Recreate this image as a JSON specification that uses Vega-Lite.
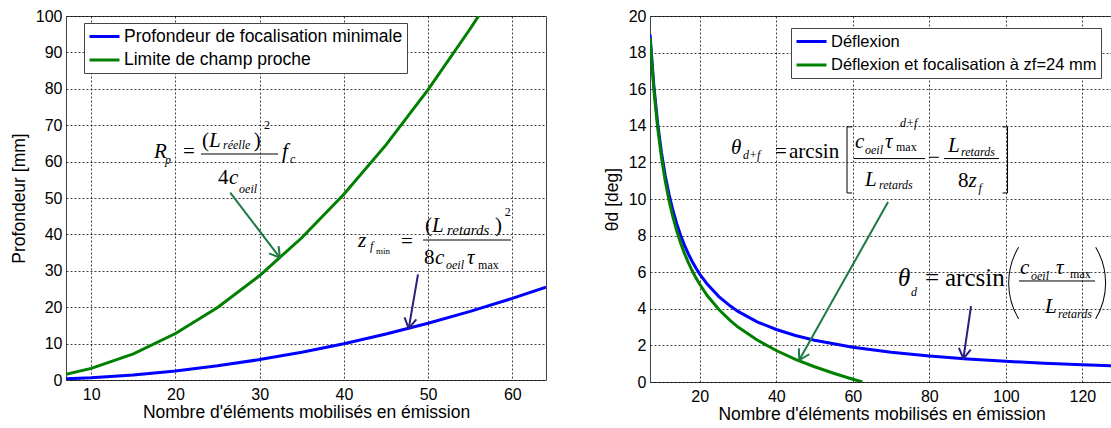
{
"$schema": "https://vega.github.io/schema/vega-lite/v6.json",
"background": "white",
"padding": {"left": 9, "top": 7, "right": 0, "bottom": 0},
"config": {
 "font": "Liberation Sans",
 "view": {"stroke": "#444", "strokeWidth": 1},
 "axis": {"labelFont": "Liberation Sans", "labelFontSize": 16, "labelColor": "#000", "titleFont": "Liberation Sans", "titleFontSize": 17.5, "titleFontWeight": "normal", "titleColor": "#000", "grid": true, "gridColor": "#000", "gridDash": [2, 2], "gridOpacity": 0.75, "ticks": false, "domain": false},
 "axisX": {"labelPadding": 6, "titlePadding": 1},
 "axisY": {"labelPadding": 4, "titlePadding": 7},
 "legend": {"labelFont": "Liberation Sans", "labelFontSize": 17.5, "labelColor": "#000", "symbolType": "M -1 0 L 2.75 0", "symbolSize": 256, "symbolStrokeWidth": 3, "strokeColor": "#444", "fillColor": "#fff", "padding": 4, "rowPadding": 5.5, "labelOffset": 17, "labelLimit": 400}
},
"datasets": {
 "L": [
  {"x": 7, "y": 0.31, "s": "Profondeur de focalisation minimale"},
  {"x": 10, "y": 0.62, "s": "Profondeur de focalisation minimale"},
  {"x": 15, "y": 1.40, "s": "Profondeur de focalisation minimale"},
  {"x": 20, "y": 2.49, "s": "Profondeur de focalisation minimale"},
  {"x": 25, "y": 3.89, "s": "Profondeur de focalisation minimale"},
  {"x": 30, "y": 5.61, "s": "Profondeur de focalisation minimale"},
  {"x": 35, "y": 7.63, "s": "Profondeur de focalisation minimale"},
  {"x": 40, "y": 9.97, "s": "Profondeur de focalisation minimale"},
  {"x": 45, "y": 12.62, "s": "Profondeur de focalisation minimale"},
  {"x": 50, "y": 15.58, "s": "Profondeur de focalisation minimale"},
  {"x": 55, "y": 18.85, "s": "Profondeur de focalisation minimale"},
  {"x": 60, "y": 22.43, "s": "Profondeur de focalisation minimale"},
  {"x": 64, "y": 25.52, "s": "Profondeur de focalisation minimale"},
  {"x": 7, "y": 1.56, "s": "Limite de champ proche"},
  {"x": 10, "y": 3.19, "s": "Limite de champ proche"},
  {"x": 15, "y": 7.18, "s": "Limite de champ proche"},
  {"x": 20, "y": 12.76, "s": "Limite de champ proche"},
  {"x": 25, "y": 19.94, "s": "Limite de champ proche"},
  {"x": 30, "y": 28.71, "s": "Limite de champ proche"},
  {"x": 35, "y": 39.08, "s": "Limite de champ proche"},
  {"x": 40, "y": 51.04, "s": "Limite de champ proche"},
  {"x": 45, "y": 64.60, "s": "Limite de champ proche"},
  {"x": 50, "y": 79.75, "s": "Limite de champ proche"},
  {"x": 55, "y": 96.50, "s": "Limite de champ proche"},
  {"x": 56, "y": 100.04, "s": "Limite de champ proche"}
 ],
 "R": [
  {"x": 7, "y": 19.0, "s": "Déflexion"},
  {"x": 8, "y": 16.2, "s": "Déflexion"},
  {"x": 9, "y": 14.13, "s": "Déflexion"},
  {"x": 10, "y": 12.53, "s": "Déflexion"},
  {"x": 11, "y": 11.26, "s": "Déflexion"},
  {"x": 12, "y": 10.23, "s": "Déflexion"},
  {"x": 13, "y": 9.37, "s": "Déflexion"},
  {"x": 14, "y": 8.64, "s": "Déflexion"},
  {"x": 15, "y": 8.02, "s": "Déflexion"},
  {"x": 16, "y": 7.48, "s": "Déflexion"},
  {"x": 17, "y": 7.01, "s": "Déflexion"},
  {"x": 18, "y": 6.60, "s": "Déflexion"},
  {"x": 19, "y": 6.23, "s": "Déflexion"},
  {"x": 20, "y": 5.90, "s": "Déflexion"},
  {"x": 22, "y": 5.34, "s": "Déflexion"},
  {"x": 25, "y": 4.67, "s": "Déflexion"},
  {"x": 28, "y": 4.15, "s": "Déflexion"},
  {"x": 30, "y": 3.86, "s": "Déflexion"},
  {"x": 35, "y": 3.29, "s": "Déflexion"},
  {"x": 40, "y": 2.87, "s": "Déflexion"},
  {"x": 45, "y": 2.54, "s": "Déflexion"},
  {"x": 50, "y": 2.28, "s": "Déflexion"},
  {"x": 60, "y": 1.90, "s": "Déflexion"},
  {"x": 70, "y": 1.62, "s": "Déflexion"},
  {"x": 80, "y": 1.42, "s": "Déflexion"},
  {"x": 90, "y": 1.26, "s": "Déflexion"},
  {"x": 100, "y": 1.13, "s": "Déflexion"},
  {"x": 110, "y": 1.03, "s": "Déflexion"},
  {"x": 120, "y": 0.94, "s": "Déflexion"},
  {"x": 128, "y": 0.88, "s": "Déflexion"},
  {"x": 7, "y": 18.81, "s": "Déflexion et focalisation à zf=24 mm"},
  {"x": 8, "y": 15.99, "s": "Déflexion et focalisation à zf=24 mm"},
  {"x": 9, "y": 13.89, "s": "Déflexion et focalisation à zf=24 mm"},
  {"x": 10, "y": 12.26, "s": "Déflexion et focalisation à zf=24 mm"},
  {"x": 11, "y": 10.96, "s": "Déflexion et focalisation à zf=24 mm"},
  {"x": 12, "y": 9.90, "s": "Déflexion et focalisation à zf=24 mm"},
  {"x": 13, "y": 9.01, "s": "Déflexion et focalisation à zf=24 mm"},
  {"x": 14, "y": 8.25, "s": "Déflexion et focalisation à zf=24 mm"},
  {"x": 15, "y": 7.60, "s": "Déflexion et focalisation à zf=24 mm"},
  {"x": 16, "y": 7.03, "s": "Déflexion et focalisation à zf=24 mm"},
  {"x": 17, "y": 6.54, "s": "Déflexion et focalisation à zf=24 mm"},
  {"x": 18, "y": 6.09, "s": "Déflexion et focalisation à zf=24 mm"},
  {"x": 19, "y": 5.69, "s": "Déflexion et focalisation à zf=24 mm"},
  {"x": 20, "y": 5.34, "s": "Déflexion et focalisation à zf=24 mm"},
  {"x": 22, "y": 4.71, "s": "Déflexion et focalisation à zf=24 mm"},
  {"x": 25, "y": 3.96, "s": "Déflexion et focalisation à zf=24 mm"},
  {"x": 28, "y": 3.35, "s": "Déflexion et focalisation à zf=24 mm"},
  {"x": 30, "y": 3.00, "s": "Déflexion et focalisation à zf=24 mm"},
  {"x": 35, "y": 2.29, "s": "Déflexion et focalisation à zf=24 mm"},
  {"x": 40, "y": 1.72, "s": "Déflexion et focalisation à zf=24 mm"},
  {"x": 45, "y": 1.24, "s": "Déflexion et focalisation à zf=24 mm"},
  {"x": 50, "y": 0.835, "s": "Déflexion et focalisation à zf=24 mm"},
  {"x": 55, "y": 0.476, "s": "Déflexion et focalisation à zf=24 mm"},
  {"x": 60, "y": 0.152, "s": "Déflexion et focalisation à zf=24 mm"},
  {"x": 62.5, "y": 0, "s": "Déflexion et focalisation à zf=24 mm"}
 ],
 "LA": [
  {"x": 17.45, "y": 61.0, "t": "R", "k": "it"},
  {"x": 18.76, "y": 59.34, "t": "p", "k": "sub"},
  {"x": 20.9, "y": 61.0, "t": "=", "k": "rm"},
  {"x": 23.15, "y": 64.0, "t": "(", "k": "rm"},
  {"x": 23.98, "y": 64.0, "t": "L", "k": "it"},
  {"x": 25.65, "y": 63.46, "t": "réelle", "k": "sub"},
  {"x": 29.3, "y": 64.0, "t": ")", "k": "rm"},
  {"x": 30.5, "y": 68.96, "t": "2", "k": "rmsub"},
  {"x": 25.05, "y": 53.85, "t": "4", "k": "rm"},
  {"x": 26.36, "y": 53.85, "t": "c", "k": "it"},
  {"x": 27.55, "y": 51.37, "t": "oeil", "k": "sub"},
  {"x": 32.65, "y": 61.0, "t": "f", "k": "it"},
  {"x": 33.6, "y": 59.6, "t": "c", "k": "sub"},
  {"x": 41.68, "y": 36.54, "t": "z", "k": "it"},
  {"x": 43.1, "y": 35.71, "t": "f", "k": "sub"},
  {"x": 43.82, "y": 34.62, "t": "min", "k": "tiny"},
  {"x": 46.79, "y": 36.26, "t": "=", "k": "rm"},
  {"x": 49.64, "y": 40.66, "t": "(", "k": "rm"},
  {"x": 50.47, "y": 40.66, "t": "L", "k": "it"},
  {"x": 52.25, "y": 39.84, "t": "retards", "k": "subw"},
  {"x": 57.95, "y": 40.66, "t": ")", "k": "rm"},
  {"x": 59.1, "y": 45.05, "t": "2", "k": "rmsub"},
  {"x": 49.52, "y": 31.87, "t": "8", "k": "rm"},
  {"x": 50.82, "y": 31.87, "t": "c", "k": "it"},
  {"x": 52.13, "y": 30.49, "t": "oeil", "k": "sub"},
  {"x": 54.63, "y": 31.87, "t": "τ", "k": "it"},
  {"x": 55.93, "y": 30.49, "t": "max", "k": "rmsub"}
 ],
 "LR": [
  {"x": 23.03, "y": 62.09, "x2": 32.18, "y2": 62.09},
  {"x": 49.4, "y": 38.46, "x2": 59.85, "y2": 38.46}
 ],
 "LAR": [
  {"x": 26.5, "y": 51.5, "x2": 32.4, "y2": 33.6, "a": "g"},
  {"x": 48.8, "y": 29.0, "x2": 47.7, "y2": 14.2, "a": "b"}
 ],
 "RA": [
  {"x": 28.17, "y": 12.46, "t": "θ", "k": "it"},
  {"x": 31.3, "y": 12.18, "t": "d+f", "k": "sub"},
  {"x": 39.67, "y": 12.24, "t": "=", "k": "rm"},
  {"x": 43.33, "y": 12.24, "t": "arcsin", "k": "rm"},
  {"x": 60.58, "y": 12.79, "t": "c", "k": "it"},
  {"x": 63.19, "y": 12.46, "t": "oeil", "k": "sub"},
  {"x": 68.42, "y": 12.79, "t": "τ", "k": "it"},
  {"x": 71.3, "y": 12.62, "t": "max", "k": "rmsub"},
  {"x": 72.34, "y": 13.95, "t": "d+f", "k": "sub"},
  {"x": 63.19, "y": 10.71, "t": "L", "k": "it"},
  {"x": 66.85, "y": 10.54, "t": "retards", "k": "sub"},
  {"x": 79.66, "y": 11.91, "t": "−", "k": "rm"},
  {"x": 84.89, "y": 12.57, "t": "L", "k": "it"},
  {"x": 88.29, "y": 12.35, "t": "retards", "k": "sub"},
  {"x": 87.5, "y": 10.65, "t": "8", "k": "rm"},
  {"x": 90.25, "y": 10.65, "t": "z", "k": "it"},
  {"x": 92.86, "y": 10.38, "t": "f", "k": "sub"},
  {"x": 71.82, "y": 5.25, "t": "θ", "k": "itL"},
  {"x": 75.2, "y": 4.70, "t": "d", "k": "sub"},
  {"x": 78.88, "y": 5.25, "t": "=", "k": "rmL"},
  {"x": 84.1, "y": 5.25, "t": "arcsin", "k": "rmL"},
  {"x": 103.71, "y": 5.90, "t": "c", "k": "it"},
  {"x": 106.58, "y": 5.57, "t": "oeil", "k": "sub"},
  {"x": 113.12, "y": 5.90, "t": "τ", "k": "it"},
  {"x": 116.78, "y": 5.68, "t": "max", "k": "rmsub"},
  {"x": 110.24, "y": 3.77, "t": "L", "k": "it"},
  {"x": 113.64, "y": 3.50, "t": "retards", "k": "sub"}
 ],
 "RR": [
  {"x": 60.32, "y": 12.21, "x2": 78.88, "y2": 12.21},
  {"x": 83.84, "y": 12.21, "x2": 98.22, "y2": 12.21},
  {"x": 58.49, "y": 13.94, "x2": 58.49, "y2": 10.33},
  {"x": 58.49, "y": 13.94, "x2": 59.8, "y2": 13.94},
  {"x": 58.49, "y": 10.33, "x2": 59.8, "y2": 10.33},
  {"x": 100.44, "y": 13.94, "x2": 100.44, "y2": 10.33},
  {"x": 99.13, "y": 13.94, "x2": 100.44, "y2": 13.94},
  {"x": 99.13, "y": 10.33, "x2": 100.44, "y2": 10.33},
  {"x": 103.44, "y": 5.52, "x2": 123.31, "y2": 5.52}
 ],
 "RAR": [
  {"x": 69.2, "y": 9.84, "x2": 46.0, "y2": 1.2, "a": "g"},
  {"x": 90.9, "y": 4.15, "x2": 88.9, "y2": 1.28, "a": "b"}
 ]
},
"spacing": 55,
"resolve": {"scale": {"color": "independent"}},
"hconcat": [
 {
  "width": 480, "height": 364,
  "encoding": {
   "x": {"field": "x", "type": "quantitative", "scale": {"domain": [7, 64], "nice": false, "zero": false}, "axis": {"values": [10, 20, 30, 40, 50, 60], "title": "Nombre d'éléments mobilisés en émission"}},
   "y": {"field": "y", "type": "quantitative", "scale": {"domain": [0, 100], "nice": false}, "axis": {"values": [0, 10, 20, 30, 40, 50, 60, 70, 80, 90, 100], "title": "Profondeur [mm]"}}
  },
  "layer": [
   {"data": {"name": "L"}, "mark": {"type": "line", "strokeWidth": 3, "clip": true},
    "encoding": {"color": {"field": "s", "type": "nominal", "scale": {"domain": ["Profondeur de focalisation minimale", "Limite de champ proche"], "range": ["#0000ff", "#008000"]}, "legend": {"orient": "none", "legendX": 18, "legendY": 7, "title": null}}}},
   {"data": {"name": "LAR"}, "transform": [{"filter": "datum.a === 'g'"}], "mark": {"type": "rule", "color": "#1b7b43", "strokeWidth": 2}, "encoding": {"x2": {"field": "x2"}, "y2": {"field": "y2"}}},
   {"data": {"name": "LAR"}, "transform": [{"filter": "datum.a === 'b'"}], "mark": {"type": "rule", "color": "#2a1f7a", "strokeWidth": 2}, "encoding": {"x2": {"field": "x2"}, "y2": {"field": "y2"}}},
   {"data": {"values": [{"x": 32.4, "y": 33.6}]}, "mark": {"type": "point", "shape": "M -0.6 1 L 0 0 L 0.6 1", "size": 400, "angle": 142.7, "filled": false, "stroke": "#1b7b43", "strokeWidth": 2, "opacity": 1}},
   {"data": {"values": [{"x": 47.7, "y": 14.2}]}, "mark": {"type": "point", "shape": "M -0.6 1 L 0 0 L 0.6 1", "size": 400, "angle": 189.7, "filled": false, "stroke": "#2a1f7a", "strokeWidth": 2, "opacity": 1}},
   {"data": {"name": "LR"}, "mark": {"type": "rule", "color": "#000", "strokeWidth": 1}, "encoding": {"x2": {"field": "x2"}, "y2": {"field": "y2"}}},
   {"data": {"name": "LA"}, "transform": [{"filter": "datum.k === 'it'"}], "mark": {"type": "text", "font": "Liberation Serif", "fontStyle": "italic", "fontSize": 21, "align": "left", "baseline": "alphabetic", "color": "#000"}, "encoding": {"text": {"field": "t"}}},
   {"data": {"name": "LA"}, "transform": [{"filter": "datum.k === 'rm'"}], "mark": {"type": "text", "font": "Liberation Serif", "fontSize": 21, "align": "left", "baseline": "alphabetic", "color": "#000"}, "encoding": {"text": {"field": "t"}}},
   {"data": {"name": "LA"}, "transform": [{"filter": "datum.k === 'sub'"}], "mark": {"type": "text", "font": "Liberation Serif", "fontStyle": "italic", "fontSize": 12, "align": "left", "baseline": "alphabetic", "color": "#000"}, "encoding": {"text": {"field": "t"}}},
   {"data": {"name": "LA"}, "transform": [{"filter": "datum.k === 'subw'"}], "mark": {"type": "text", "font": "Liberation Serif", "fontStyle": "italic", "fontSize": 15, "align": "left", "baseline": "alphabetic", "color": "#000"}, "encoding": {"text": {"field": "t"}}},
   {"data": {"name": "LA"}, "transform": [{"filter": "datum.k === 'rmsub'"}], "mark": {"type": "text", "font": "Liberation Serif", "fontSize": 12, "align": "left", "baseline": "alphabetic", "color": "#000"}, "encoding": {"text": {"field": "t"}}},
   {"data": {"name": "LA"}, "transform": [{"filter": "datum.k === 'tiny'"}], "mark": {"type": "text", "font": "Liberation Serif", "fontSize": 9, "align": "left", "baseline": "alphabetic", "color": "#000"}, "encoding": {"text": {"field": "t"}}}
  ]
 },
 {
  "width": 463, "height": 366,
  "encoding": {
   "x": {"field": "x", "type": "quantitative", "scale": {"domain": [7, 128], "nice": false, "zero": false}, "axis": {"values": [20, 40, 60, 80, 100, 120], "title": "Nombre d'éléments mobilisés en émission"}},
   "y": {"field": "y", "type": "quantitative", "scale": {"domain": [0, 20], "nice": false}, "axis": {"values": [0, 2, 4, 6, 8, 10, 12, 14, 16, 18, 20], "title": "θd [deg]"}}
  },
  "layer": [
   {"data": {"name": "R"}, "mark": {"type": "line", "strokeWidth": 3, "clip": true},
    "encoding": {"color": {"field": "s", "type": "nominal", "scale": {"domain": ["Déflexion", "Déflexion et focalisation à zf=24 mm"], "range": ["#0000ff", "#008000"]}, "legend": {"orient": "none", "legendX": 141, "legendY": 12, "title": null, "labelFontSize": 16.5}}}},
   {"data": {"name": "RAR"}, "transform": [{"filter": "datum.a === 'g'"}], "mark": {"type": "rule", "color": "#1b7b43", "strokeWidth": 2}, "encoding": {"x2": {"field": "x2"}, "y2": {"field": "y2"}}},
   {"data": {"name": "RAR"}, "transform": [{"filter": "datum.a === 'b'"}], "mark": {"type": "rule", "color": "#2a1f7a", "strokeWidth": 2}, "encoding": {"x2": {"field": "x2"}, "y2": {"field": "y2"}}},
   {"data": {"values": [{"x": 46.0, "y": 1.2}]}, "mark": {"type": "point", "shape": "M -0.6 1 L 0 0 L 0.6 1", "size": 400, "angle": 209.3, "filled": false, "stroke": "#1b7b43", "strokeWidth": 2, "opacity": 1}},
   {"data": {"values": [{"x": 88.9, "y": 1.28}]}, "mark": {"type": "point", "shape": "M -0.6 1 L 0 0 L 0.6 1", "size": 400, "angle": 188.3, "filled": false, "stroke": "#2a1f7a", "strokeWidth": 2, "opacity": 1}},
   {"data": {"name": "RR"}, "mark": {"type": "rule", "color": "#000", "strokeWidth": 1}, "encoding": {"x2": {"field": "x2"}, "y2": {"field": "y2"}}},
   {"data": {"values": [{"x": 118.9, "y": 5.41}]}, "mark": {"type": "arc", "theta": 4.171, "theta2": 5.253, "radius": 70, "radius2": 69, "color": "#000"}},
   {"data": {"values": [{"x": 107.9, "y": 5.41}]}, "mark": {"type": "arc", "theta": 1.030, "theta2": 2.112, "radius": 70, "radius2": 69, "color": "#000"}},
   {"data": {"name": "RA"}, "transform": [{"filter": "datum.k === 'it'"}], "mark": {"type": "text", "font": "Liberation Serif", "fontStyle": "italic", "fontSize": 21, "align": "left", "baseline": "alphabetic", "color": "#000"}, "encoding": {"text": {"field": "t"}}},
   {"data": {"name": "RA"}, "transform": [{"filter": "datum.k === 'rm'"}], "mark": {"type": "text", "font": "Liberation Serif", "fontSize": 21, "align": "left", "baseline": "alphabetic", "color": "#000"}, "encoding": {"text": {"field": "t"}}},
   {"data": {"name": "RA"}, "transform": [{"filter": "datum.k === 'itL'"}], "mark": {"type": "text", "font": "Liberation Serif", "fontStyle": "italic", "fontSize": 25, "align": "left", "baseline": "alphabetic", "color": "#000"}, "encoding": {"text": {"field": "t"}}},
   {"data": {"name": "RA"}, "transform": [{"filter": "datum.k === 'rmL'"}], "mark": {"type": "text", "font": "Liberation Serif", "fontSize": 25, "align": "left", "baseline": "alphabetic", "color": "#000"}, "encoding": {"text": {"field": "t"}}},
   {"data": {"name": "RA"}, "transform": [{"filter": "datum.k === 'sub'"}], "mark": {"type": "text", "font": "Liberation Serif", "fontStyle": "italic", "fontSize": 12, "align": "left", "baseline": "alphabetic", "color": "#000"}, "encoding": {"text": {"field": "t"}}},
   {"data": {"name": "RA"}, "transform": [{"filter": "datum.k === 'rmsub'"}], "mark": {"type": "text", "font": "Liberation Serif", "fontSize": 12, "align": "left", "baseline": "alphabetic", "color": "#000"}, "encoding": {"text": {"field": "t"}}}
  ]
 }
]
}
